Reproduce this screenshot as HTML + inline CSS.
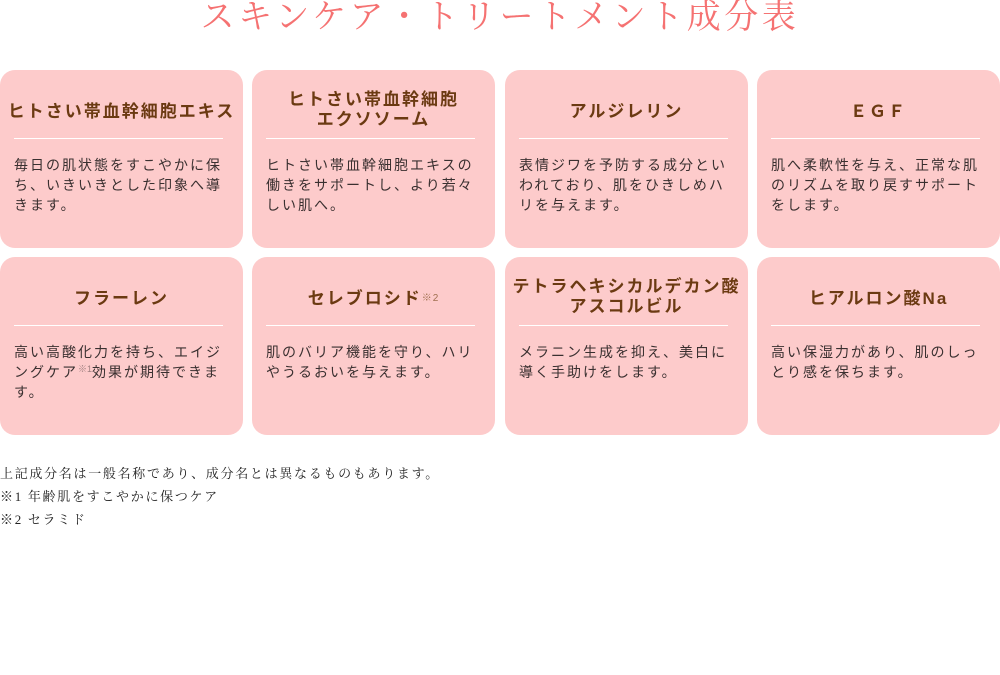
<!DOCTYPE html>
<html><head><meta charset="utf-8"><style>
*{margin:0;padding:0;box-sizing:border-box}
body{width:1000px;height:675px;background:#fff;position:relative;overflow:hidden;font-family:"Liberation Sans","Noto Sans CJK JP",sans-serif}
h1{position:absolute;top:-2px;left:0;width:1000px;text-align:center;font-family:"Liberation Serif","Noto Serif CJK SC",serif;font-weight:400;font-size:34px;letter-spacing:3.5px;color:#f57272;line-height:40px}
.c{position:absolute;width:243px;height:178px;background:#fdcbcb;border-radius:15px}
.t{position:absolute;left:0;top:8px;width:243px;height:68px;display:flex;align-items:center;justify-content:center;text-align:center;color:#6b3a12;font-weight:700;font-size:17px;letter-spacing:2px;line-height:20px;white-space:nowrap}
.t sup{font-size:10px;font-weight:400;color:#a07050;letter-spacing:1px;vertical-align:6px;line-height:0}
.l{position:absolute;left:14px;top:68px;width:209px;height:1px;background:#fff}
.b{position:absolute;left:14px;top:85px;width:220px;font-size:14px;letter-spacing:2px;line-height:20px;color:#3a3030;white-space:nowrap}
.b sup{font-size:9px;color:#a08080;vertical-align:5px;line-height:0;letter-spacing:0}
.f{position:absolute;left:0;top:462px;font-family:"Liberation Serif","Noto Serif CJK SC",serif;font-size:13px;letter-spacing:1.7px;line-height:23px;color:#222}
</style></head><body>
<h1>スキンケア・トリートメント成分表</h1>
<div class="c" style="left:0;top:70px"><div class="t">ヒトさい帯血幹細胞エキス</div><div class="l"></div><div class="b">毎日の肌状態をすこやかに保<br>ち、いきいきとした印象へ導<br>きます。</div></div>
<div class="c" style="left:252px;top:70px"><div class="t" style="top:6px">ヒトさい帯血幹細胞<br>エクソソーム</div><div class="l"></div><div class="b">ヒトさい帯血幹細胞エキスの<br>働きをサポートし、より若々<br>しい肌へ。</div></div>
<div class="c" style="left:505px;top:70px"><div class="t">アルジレリン</div><div class="l"></div><div class="b">表情ジワを予防する成分とい<br>われており、肌をひきしめハ<br>リを与えます。</div></div>
<div class="c" style="left:757px;top:70px"><div class="t">ＥＧＦ</div><div class="l"></div><div class="b">肌へ柔軟性を与え、正常な肌<br>のリズムを取り戻すサポート<br>をします。</div></div>
<div class="c" style="left:0;top:257px"><div class="t">フラーレン</div><div class="l"></div><div class="b">高い高酸化力を持ち、エイジ<br>ングケア<sup>※1</sup>効果が期待できま<br>す。</div></div>
<div class="c" style="left:252px;top:257px"><div class="t">セレブロシド<sup>※2</sup></div><div class="l"></div><div class="b">肌のバリア機能を守り、ハリ<br>やうるおいを与えます。</div></div>
<div class="c" style="left:505px;top:257px"><div class="t" style="top:6px">テトラヘキシカルデカン酸<br>アスコルビル</div><div class="l"></div><div class="b">メラニン生成を抑え、美白に<br>導く手助けをします。</div></div>
<div class="c" style="left:757px;top:257px"><div class="t">ヒアルロン酸Na</div><div class="l"></div><div class="b">高い保湿力があり、肌のしっ<br>とり感を保ちます。</div></div>
<div class="f">上記成分名は一般名称であり、成分名とは異なるものもあります。<br>※1 年齢肌をすこやかに保つケア<br>※2 セラミド</div>
</body></html>
